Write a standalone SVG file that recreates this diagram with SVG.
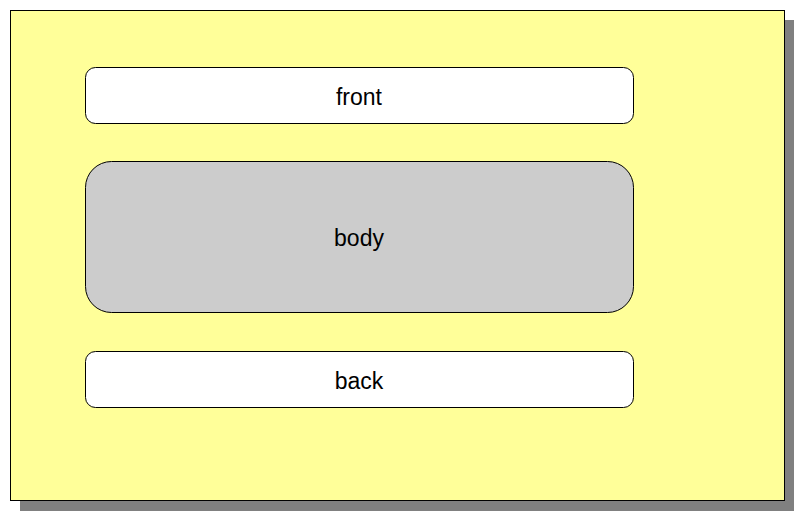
<svg xmlns="http://www.w3.org/2000/svg" width="804" height="527" viewBox="0 0 804 527">
<style>
.box{stroke:#000;stroke-width:1}
.lbl{font-family:"Liberation Sans",Arial,sans-serif;font-size:23px;fill:#000;text-anchor:middle}
</style>
<rect width="804" height="527" fill="#fff"/>
<g id="frame">
<rect x="20" y="20" width="774" height="491" fill="#808080"/>
<rect x="10.5" y="10.5" width="774" height="490" fill="#ffff99" stroke="#000" stroke-width="1"/>
</g>
<g id="connectors"></g>
<g id="front">
<rect class="box" x="85.5" y="67.5" width="548" height="56" rx="10" fill="#fff"/>
<text class="lbl" x="359" y="105">front</text>
</g>
<g id="body">
<rect class="box" x="85.5" y="161.5" width="548" height="151" rx="26" fill="#cccccc"/>
<text class="lbl" x="359" y="246">body</text>
</g>
<g id="back">
<rect class="box" x="85.5" y="351.5" width="548" height="56" rx="10" fill="#fff"/>
<text class="lbl" x="359" y="389">back</text>
</g>
</svg>
